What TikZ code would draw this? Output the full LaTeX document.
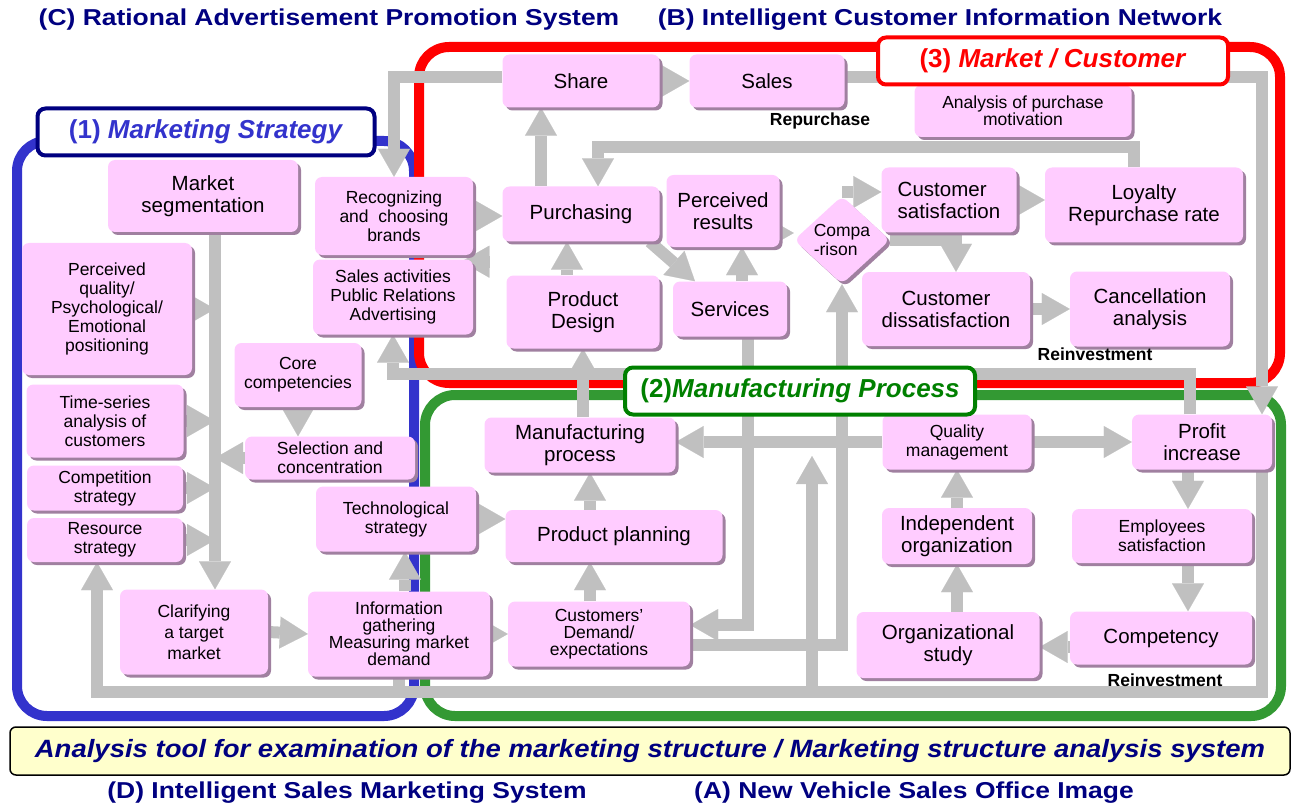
\documentclass[tikz,border=0pt]{standalone}
\usepackage{fontspec}
\setmainfont{Liberation Sans}
\usetikzlibrary{arrows.meta,shapes.geometric,shadows}

\definecolor{pinkbox}{HTML}{FFCCFF}
\definecolor{pinkshade}{HTML}{A080A0}
\definecolor{arrowgray}{HTML}{C0C0C0}
\definecolor{stratblue}{HTML}{3333CC}
\definecolor{navytext}{HTML}{000080}
\definecolor{mfggreen}{HTML}{339933}
\definecolor{mfgtext}{HTML}{008000}
\definecolor{bannerfill}{HTML}{FFFFCC}

\newcommand\boxfont{\fontsize{20.5}{22}\selectfont}
\newcommand\smallboxfont{\fontsize{17.5}{19}\selectfont}
\newcommand\headfont{\fontsize{23}{24}\selectfont\bfseries}
\newcommand\tagfont{\fontsize{26}{28}\selectfont\bfseries}

\pgfdeclarelayer{frame layer}
\pgfdeclarelayer{arrow layer}
\pgfsetlayers{frame layer,arrow layer,main}

\tikzset{
  pbox/.style={rectangle, rounded corners=7pt, fill=pinkbox, inner sep=0pt, align=center,
    font=\boxfont, drop shadow={shadow xshift=3pt, shadow yshift=-3pt, fill=pinkshade, opacity=1}},
  sbox/.style={pbox, font=\smallboxfont},
  wh/.style 2 args={minimum width=#1pt, minimum height=#2pt},
  garrow/.style={draw=arrowgray, line width=12pt,
    -{Triangle[width=32pt,length=28pt,line width=0.1pt]}},
  gline/.style={draw=arrowgray, line width=12pt},
  frame/.style={line width=10pt, rounded corners=30pt},
  tagbox/.style={fill=white, line width=4pt, rounded corners=8pt, inner sep=0pt,
    minimum height=47pt, font=\tagfont},
  note/.style={font=\smallboxfont\bfseries}
}

\begin{document}
\begin{tikzpicture}[x=1pt,y=-1pt]
  \useasboundingbox (0,0) rectangle (1297,810);

  % (1) marketing strategy
  \node[pbox, wh={190}{72}] (seg) at (203,196) {Market\\segmentation};
  \node[sbox, wh={170}{132}] (qual) at (107,309) {Perceived\\quality/\\Psychological/\\Emotional\\positioning};
  \node[sbox, wh={157}{73}] (tser) at (105,421) {Time-series\\analysis of\\customers};
  \node[sbox, wh={156}{45}] (compt) at (105,488) {Competition\\strategy};
  \node[sbox, wh={156}{44}] (resrc) at (105,540) {Resource\\strategy};
  \node[sbox, wh={127}{64}] (core) at (298,375) {Core\\competencies};
  \node[sbox, wh={170}{43}] (selc) at (330,458) {Selection and\\concentration};
  \node[sbox, wh={158}{78}] (brand) at (394,216) {Recognizing\\and\ \ choosing\\brands};
  \node[sbox, wh={160}{75}] (promo) at (393,297) {Sales activities\\Public Relations\\Advertising};
  \node[sbox, wh={160}{65}] (tech) at (396,519) {Technological\\strategy};
  \node[sbox, wh={148}{85}, font=\fontsize{17.5}{21}\selectfont] (target) at (194,632) {Clarifying\\a target\\market};
  \node[sbox, wh={182}{85}, font=\fontsize{17.5}{17}\selectfont] (info) at (399,634) {Information\\gathering\\Measuring market\\demand};

  % (3) market / customer
  \node[pbox, wh={157}{53}] (share) at (581,81) {Share};
  \node[pbox, wh={155}{53}] (sales) at (767,81) {Sales};
  \node[pbox, wh={157}{55}] (purch) at (581,214) {Purchasing};
  \node[pbox, wh={153}{73}] (design) at (583,312) {Product\\Design};
  \node[pbox, wh={113}{72}] (result) at (723,211) {Perceived\\results};
  \node[pbox, wh={114}{55}] (serv) at (730,309) {Services};
  \node[sbox, shape=diamond, wh={96}{88}, align=left] (compar) at (842,240) {Compa\\-rison};
  \node[pbox, wh={135}{65}, align=left] (sat) at (949,200) {Customer\\satisfaction};
  \node[pbox, wh={198}{75}] (loyal) at (1144,205) {Loyalty\\Repurchase rate};
  \node[sbox, wh={217}{52}, font=\fontsize{17.5}{16}\selectfont] (motiv) at (1023,111) {Analysis of purchase\\motivation};
  \node[pbox, wh={168}{74}] (dissat) at (946,309) {Customer\\dissatisfaction};
  \node[pbox, wh={160}{75}] (cancel) at (1150,309) {Cancellation\\analysis};

  % (2) manufacturing process
  \node[pbox, wh={191}{55}] (mproc) at (580,445) {Manufacturing\\process};
  \node[pbox, wh={217}{52}] (plan) at (614,536) {Product planning};
  \node[sbox, wh={182}{65}, font=\fontsize{17.5}{17}\selectfont] (demand) at (599,634) {Customers'\\Demand/\\expectations};
  \node[sbox, wh={149}{55}] (quality) at (957,442) {Quality\\management};
  \node[pbox, wh={150}{56}] (indep) at (957,536) {Independent\\organization};
  \node[pbox, wh={183}{66}] (orgst) at (948,645) {Organizational\\study};
  \node[pbox, wh={140}{55}] (profit) at (1202,442) {Profit\\increase};
  \node[sbox, wh={180}{54}] (empl) at (1162,536) {Employees\\satisfaction};
  \node[pbox, wh={182}{53}] (compet) at (1161,638) {Competency};

  \coordinate (trunk) at (215,0);
  \coordinate (loopR) at (1262,692);
  \coordinate (loopL) at (97,692);
  \coordinate (riseA) at (812,692);

  \begin{pgfonlayer}{frame layer}
    \draw[frame, draw=stratblue] (17,141) rectangle (414,716);
    \draw[frame, draw=red] (419,47) rectangle (1280,383);
    \draw[frame, draw=mfggreen] (425,395) rectangle (1281,716);
  \end{pgfonlayer}

  \begin{pgfonlayer}{arrow layer}
    \draw[garrow] (seg.south -| trunk) -- (target.north -| trunk);
    \foreach \src in {qual,tser,compt,resrc}
      \draw[garrow] (\src.east) -- (\src.east -| trunk);
    \draw[garrow] (selc.west) -- (selc.west -| trunk);
    \draw[garrow] (core.south) -- (core.south |- selc.north);
    \draw[garrow] (target.east) -- (info.west);
    \draw[garrow] ([xshift=6pt]info.north) -- ([xshift=6pt]info.north |- tech.south);
    \draw[garrow] (info.east) -- (demand.west);
    \draw[gline] (info.south) -- (info.south |- loopR);
    \draw[garrow] (profit.south -| loopR) -- (loopR) -- (loopL) -- (loopL |- resrc.south);

    \draw[garrow] (tech.east) -- (tech.east -| plan.west);
    \draw[garrow] ([xshift=-9pt]demand.north) -- ([xshift=-9pt]demand.north |- plan.south);
    \draw[garrow] ([xshift=10pt]mproc.south |- plan.north) -- ([xshift=10pt]mproc.south);
    \draw[garrow] (mproc.north -| design.south) -- (design.south);
    \draw[garrow] (riseA) -- ([yshift=-14pt]riseA |- quality.west);
    \draw[garrow] (quality.west) -- (quality.west -| mproc.east);
    \draw[garrow] ([yshift=-11pt]demand.east) -| (compar.south);
    \draw[garrow] ([xshift=18pt]serv.south) |- ([yshift=9pt]demand.east);
    \draw[garrow] ([xshift=-12pt]profit.north) -- ++(0,-40) -| (promo.south);

    \draw[garrow] ([yshift=4pt]share.west) -| (brand.north);
    \draw[garrow] (brand.east) -- (brand.east -| purch.west);
    \draw[garrow] ([xshift=-13pt,yshift=-20pt]purch.south west) -- ([xshift=-41pt,yshift=-20pt]purch.south west);
    \draw[garrow] ([xshift=-40pt]purch.north) -- ([xshift=-40pt]share.south);
    \draw[garrow] ([xshift=-16pt]design.north) -- ([xshift=-16pt]design.north |- purch.south);
    \draw[garrow] ([xshift=-10pt]purch.south east) -- ([xshift=-35pt]serv.north);
    \draw[garrow] ([xshift=12pt]serv.north) -- ([xshift=12pt]serv.north |- result.south);
    \draw[garrow] ([yshift=-22pt]result.east) -- ([yshift=-22pt]result.east -| compar.west);
    \draw[garrow] ([yshift=8pt]sat.west -| compar.north) -- ([yshift=8pt]sat.west);
    \draw[garrow] (compar.east) -| ([xshift=10pt]dissat.north);
    \draw[garrow] (sat.east) -- (sat.east -| loyal.west);
    \draw[garrow] (dissat.east) -- (cancel.west);
    \draw[garrow] ([xshift=-10pt]loyal.north) -- ++(0,-20) -| ([xshift=17pt]purch.north);
    \draw[garrow] (share.east) -- (sales.west);
    \draw[garrow] ([yshift=4pt]sales.east) -| (loopR |- profit.north);

    \draw[garrow] (quality.east) -- (profit.west);
    \draw[garrow] (indep.north) -- (quality.south);
    \draw[garrow] (orgst.north -| indep.south) -- (indep.south);
    \draw[garrow] ([yshift=-9pt]compet.west) -- ([yshift=-9pt]compet.west -| orgst.east);
    \draw[garrow] ([xshift=-14pt]profit.south) -- ([xshift=-14pt]profit.south |- empl.north);
    \draw[garrow] ([xshift=-14pt]profit.south |- empl.south) -- ([xshift=-14pt]profit.south |- compet.north);
  \end{pgfonlayer}

  \node[tagbox, draw=navytext, minimum width=337pt, text=stratblue] (tagS) at (206,132) {(1) \textit{Marketing Strategy}};
  \node[tagbox, draw=red, minimum width=350pt, text=red] (tagM) at (1053,61) {(3) \textit{Market / Customer}};
  \node[tagbox, draw=mfgtext, minimum width=350pt, text=mfgtext] (tagP) at (800,391) {(2)\textit{Manufacturing Process}};

  \node[note] (repurch) at (820,121) {Repurchase};
  \node[note] (reinvA) at (1095,354) {Reinvestment};
  \node[note] (reinvB) at (1165,680) {Reinvestment};

  \node[draw=black, line width=1.5pt, fill=bannerfill, rounded corners=6pt, minimum width=1280pt,
    minimum height=48pt, inner sep=0pt, text=navytext, font=\fontsize{25}{26}\selectfont\bfseries\itshape]
    (banner) at (650,751) {\scalebox{1.1}[1]{Analysis tool for examination of the marketing structure / Marketing structure analysis system}};

  \node[text=navytext, font=\headfont] (titC) at (329,20) {\scalebox{1.15}[1]{(C) Rational Advertisement Promotion System}};
  \node[text=navytext, font=\headfont] (titB) at (940,20) {\scalebox{1.15}[1]{(B) Intelligent Customer Information Network}};
  \node[text=navytext, font=\headfont] (titD) at (347,793) {\scalebox{1.15}[1]{(D) Intelligent Sales Marketing System}};
  \node[text=navytext, font=\headfont] (titA) at (914,793) {\scalebox{1.15}[1]{(A) New Vehicle Sales Office Image}};
\end{tikzpicture}
\end{document}
